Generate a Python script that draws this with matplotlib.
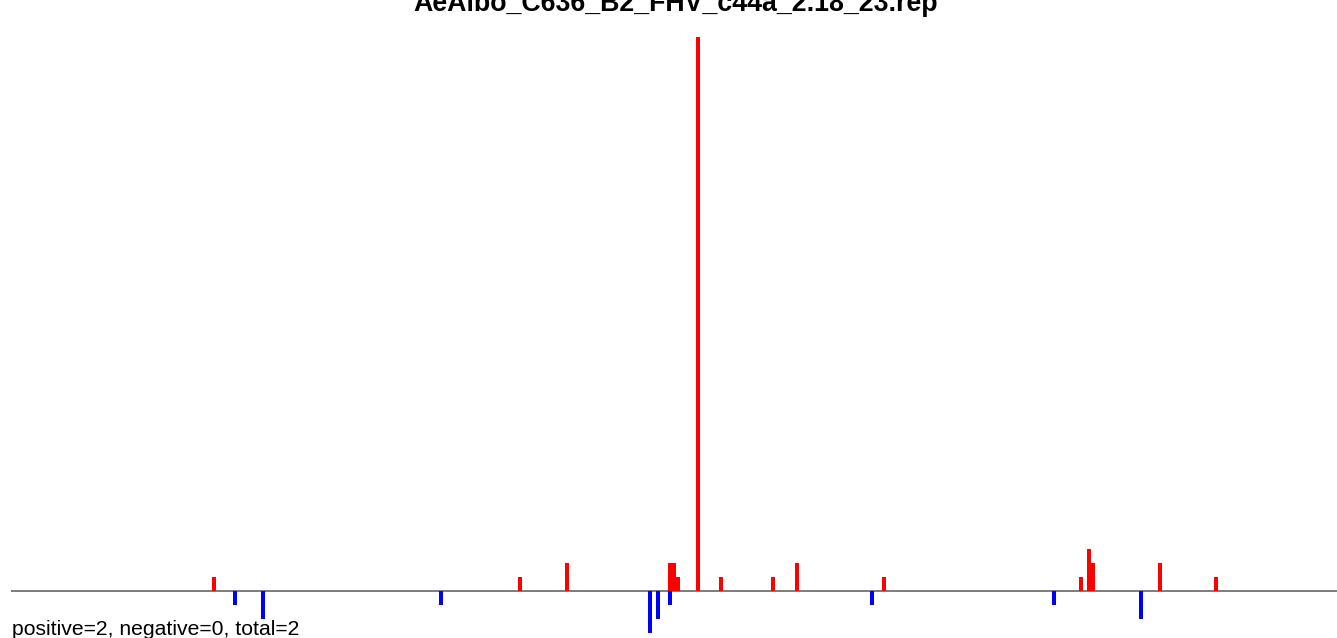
import matplotlib
matplotlib.use("Agg")
import matplotlib.pyplot as plt

# positions along the sequence and read counts
pos_positions = [203, 509, 556, 659, 663, 667, 687, 710, 762, 786, 873, 1070, 1078, 1082, 1149, 1205]
pos_values    = [1,   1,   2,   2,   2,   1,   40,  1,   1,   2,   1,   1,    3,    2,    2,    1]
neg_positions = [224, 252, 430, 639, 647, 659, 861, 1043, 1130]
neg_values    = [-1,  -2,  -1,  -3,  -2,  -1,  -1,  -1,   -2]

title = "AeAlbo_C636_B2_FHV_c44a_2.18_23.rep"
summary = "positive=2, negative=0, total=2"

W, H = 1337, 638
fig = plt.figure(figsize=(W / 100, H / 100), dpi=100)
plt.rcParams['font.family'] = ['Liberation Sans', 'DejaVu Sans']

ax_left, ax_top, ax_bottom = 11, 37, 638
ax = fig.add_axes([ax_left / W, (H - ax_bottom) / H, (W - ax_left) / W, (ax_bottom - ax_top) / H])
unit = 14.0
base = 591
ax.set_xlim(0, W - ax_left)
ax.set_ylim(-(ax_bottom - base) / unit, (base - ax_top) / unit)

ax.axhline(0, color='#666666', lw=1.2, zorder=1)
ax.bar(pos_positions, pos_values, width=4, color='#ff0000', align='center', zorder=2, linewidth=0)
ax.bar(neg_positions, neg_values, width=4, color='#0000ff', align='center', zorder=2, linewidth=0)

for s in ax.spines.values():
    s.set_visible(False)
ax.set_xticks([])
ax.set_yticks([])
ax.patch.set_alpha(0)

fig.text(676 / W, (H - 11) / H, title, ha='center', va='baseline', fontsize=19.3, fontweight='bold')
fig.text(12 / W, (H - 635) / H, summary, ha='left', va='baseline', fontsize=15.2)

fig.savefig("out.png", dpi=100)
